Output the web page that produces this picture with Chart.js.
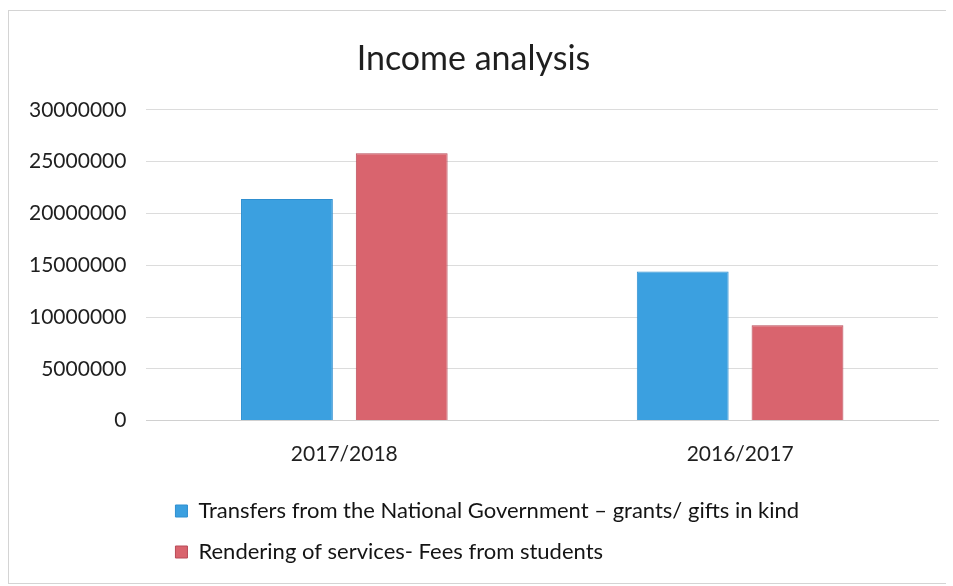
<!DOCTYPE html>
<html>
<head>
<meta charset="utf-8">
<script src="https://cdn.jsdelivr.net/npm/chart.js@4"></script>
<style>
    body { margin: 0; background: #fff; }
    #frame {
        position: absolute;
        left: 8px;
        top: 10px;
        width: 937px;
        height: 572px;
        border: 1px solid #d4d4d4;
        border-right: none;
    }
</style>
</head>
<body>
<div id="frame">
    <canvas id="bar-chart" width="937" height="572"></canvas>
</div>
<script>
    // chart data
    const categories = ['2017/2018', '2016/2017'];
    const seriesNames = [
        'Transfers from the National Government \u2013 grants/ gifts in kind',
        'Rendering of services- Fees from students'
    ];
    const transfers = [21400000, 14400000];
    const fees = [25800000, 9200000];
    const yTicks = [0, 5000000, 10000000, 15000000, 20000000, 25000000, 30000000];

    const font = 'Lato, "Open Sans", sans-serif';

    // move legend a bit to the right, like in the picture
    const legendShift = {
        id: 'legendShift',
        afterLayout(chart) {
            chart.legend.left += 10;
            chart.legend.right += 10;
        }
    };

    const barChartConfig = {
        type: 'bar',
        data: {
            labels: categories,
            datasets: [
                {
                    label: seriesNames[0],
                    data: transfers,
                    backgroundColor: '#3ba0e0',
                    borderColor: '#2f8fd0',
                    borderWidth: 1
                },
                {
                    label: seriesNames[1],
                    data: fees,
                    backgroundColor: '#d9646e',
                    borderColor: '#b84a58',
                    borderWidth: 1
                }
            ]
        },
        options: {
            responsive: false,
            animation: false,
            categoryPercentage: 0.58,
            barPercentage: 0.8,
            layout: {
                padding: {left: 0, right: 8, top: 0, bottom: 10}
            },
            plugins: {
                title: {
                    display: true,
                    text: 'Income analysis',
                    color: '#1f1f1f',
                    font: {family: font, size: 34, weight: 'normal'},
                    padding: {top: 28, bottom: 30}
                },
                legend: {
                    position: 'bottom',
                    align: 'start',
                    fullSize: false,
                    // empty title only adds a little room above the rows
                    title: {
                        display: true,
                        text: '',
                        font: {size: 1},
                        padding: 0
                    },
                    labels: {
                        color: '#141414',
                        font: {family: font, size: 22},
                        boxWidth: 12,
                        boxHeight: 12,
                        padding: 19
                    }
                },
                tooltip: {enabled: false}
            },
            scales: {
                x: {
                    grid: {display: false},
                    border: {color: '#d0d0d0'},
                    ticks: {
                        color: '#1f1f1f',
                        font: {family: font, size: 21},
                        padding: 13
                    }
                },
                y: {
                    min: 0,
                    max: 30000000,
                    afterBuildTicks: axis => {
                        axis.ticks = yTicks.map(v => ({value: v}));
                    },
                    grid: {color: '#dcdcdc', drawTicks: false},
                    border: {display: false},
                    ticks: {
                        color: '#1f1f1f',
                        font: {family: font, size: 21},
                        padding: 20,
                        callback: value => String(value)
                    }
                }
            }
        },
        plugins: [legendShift]
    };

    new Chart(document.getElementById('bar-chart').getContext('2d'), barChartConfig);
</script>
</body>
</html>
